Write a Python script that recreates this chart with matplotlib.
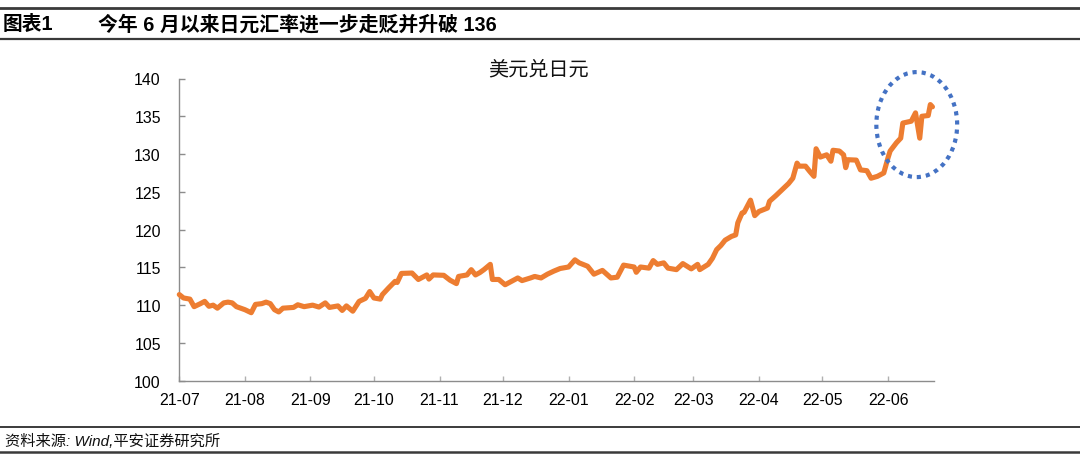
import matplotlib
matplotlib.use("Agg")
import matplotlib.pyplot as plt
import matplotlib.dates as mdates
from matplotlib.patches import Ellipse
from matplotlib.lines import Line2D
import numpy as np
import pandas as pd

plt.rcParams['font.family'] = ['Liberation Sans', 'Noto Sans CJK SC', 'DejaVu Sans']

# ---------------- data ----------------
fig_label = "图表1"
fig_title = "今年 6 月以来日元汇率进一步走贬并升破 136"
chart_title = "美元兑日元"
source_text = "资料来源: Wind,平安证券研究所"

dates = [
    "2021-07-01", "2021-07-03", "2021-07-06", "2021-07-08", "2021-07-11", "2021-07-13",
    "2021-07-15", "2021-07-17", "2021-07-19", "2021-07-22", "2021-07-24", "2021-07-26",
    "2021-07-28", "2021-07-30", "2021-08-01", "2021-08-04", "2021-08-06", "2021-08-09",
    "2021-08-11", "2021-08-13", "2021-08-15", "2021-08-17", "2021-08-19", "2021-08-24",
    "2021-08-26", "2021-08-29", "2021-09-02", "2021-09-05", "2021-09-08", "2021-09-10",
    "2021-09-14", "2021-09-16", "2021-09-18", "2021-09-21", "2021-09-24", "2021-09-27",
    "2021-09-29", "2021-10-01", "2021-10-04", "2021-10-05", "2021-10-08", "2021-10-11",
    "2021-10-12", "2021-10-14", "2021-10-19", "2021-10-22", "2021-10-26", "2021-10-27",
    "2021-10-29", "2021-11-03", "2021-11-06", "2021-11-09", "2021-11-10", "2021-11-14",
    "2021-11-16", "2021-11-18", "2021-11-20", "2021-11-22", "2021-11-25", "2021-11-26",
    "2021-11-29", "2021-12-02", "2021-12-05", "2021-12-08", "2021-12-10", "2021-12-14",
    "2021-12-16", "2021-12-19", "2021-12-22", "2021-12-25", "2021-12-28", "2022-01-01",
    "2022-01-04", "2022-01-06", "2022-01-10", "2022-01-13", "2022-01-17", "2022-01-21",
    "2022-01-24", "2022-01-27", "2022-01-30", "2022-02-01", "2022-02-02", "2022-02-04",
    "2022-02-08", "2022-02-10", "2022-02-12", "2022-02-15", "2022-02-17", "2022-02-21",
    "2022-02-24", "2022-02-28", "2022-03-03", "2022-03-04", "2022-03-08", "2022-03-10",
    "2022-03-12", "2022-03-14", "2022-03-16", "2022-03-19", "2022-03-21", "2022-03-22",
    "2022-03-24", "2022-03-25", "2022-03-28", "2022-03-30", "2022-04-01", "2022-04-05",
    "2022-04-06", "2022-04-09", "2022-04-12", "2022-04-15", "2022-04-17", "2022-04-19",
    "2022-04-20", "2022-04-23", "2022-04-25", "2022-04-27", "2022-04-28", "2022-04-30",
    "2022-05-03", "2022-05-05", "2022-05-06", "2022-05-09", "2022-05-11", "2022-05-12",
    "2022-05-13", "2022-05-17", "2022-05-19", "2022-05-22", "2022-05-24", "2022-05-27",
    "2022-05-30", "2022-06-01", "2022-06-02", "2022-06-05", "2022-06-07", "2022-06-08",
    "2022-06-12", "2022-06-14", "2022-06-16", "2022-06-17", "2022-06-20", "2022-06-21",
    "2022-06-22",
]

usdjpy = [
    111.4, 110.95, 110.8, 109.8, 110.2, 110.5,
    109.85, 110.0, 109.6, 110.3, 110.4, 110.3,
    109.8, 109.6, 109.4, 109.0, 110.1, 110.2,
    110.4, 110.2, 109.4, 109.1, 109.6, 109.7,
    110.05, 109.8, 110.0, 109.75, 110.3, 109.7,
    109.9, 109.3, 109.9, 109.2, 110.5, 110.9,
    111.8, 110.95, 110.8, 111.4, 112.3, 113.15,
    113.0, 114.2, 114.25, 113.4, 114.0, 113.45,
    114.0, 113.95, 113.3, 112.85, 113.8, 114.0,
    114.7, 114.0, 114.3, 114.7, 115.4, 113.4,
    113.4, 112.7, 113.15, 113.6, 113.25, 113.6,
    113.8, 113.6, 114.1, 114.5, 114.85, 115.05,
    116.0, 115.6, 115.15, 114.1, 114.6, 113.6,
    113.7, 115.3, 115.15, 115.05, 114.35, 115.05,
    114.9, 115.9, 115.4, 115.6, 114.9, 114.7,
    115.5, 114.8, 115.4, 114.7, 115.4, 116.2,
    117.35, 117.9, 118.6, 119.1, 119.3, 120.9,
    122.2, 122.3, 123.9, 121.85, 122.4, 122.85,
    123.75, 124.5, 125.3, 126.1, 126.8, 128.8,
    128.4, 128.4, 127.7, 127.05, 130.7, 129.6,
    129.9, 129.05, 130.5, 130.4, 129.9, 128.2,
    129.25, 129.2, 127.9, 127.8, 126.8, 127.05,
    127.5, 129.5, 130.4, 131.5, 132.1, 134.1,
    134.35, 135.45, 132.1, 135.0, 135.1, 136.55,
    136.25,
]

y_ticks = [100, 105, 110, 115, 120, 125, 130, 135, 140]

# highlight ellipse (data units): centre date, centre value, width in days, height in value
ellipse_center_date = "2022-06-14 14:00"
ellipse_center_value = 133.9
ellipse_width_days = 38.2
ellipse_height_value = 13.9

# ---------------- figure ----------------
W, H = 1080, 460
fig = plt.figure(figsize=(W / 100, H / 100), dpi=100)

def fx(px):
    return px / W

def fy(py):
    return 1 - py / H

x = pd.to_datetime(dates)
ax = fig.add_axes([fx(179.3), fy(381.7), fx(933.5 - 179.3), (381.7 - 79.5) / H])

ax.plot(x, usdjpy, color="#ED7D31", lw=3.7, solid_joinstyle="round", solid_capstyle="round",
        clip_on=False, zorder=3)

ax.set_ylim(100, 140)
ax.set_yticks(y_ticks)
ax.set_xlim(pd.Timestamp("2021-07-01"), pd.Timestamp(dates[-1]) + pd.Timedelta(hours=12))
ax.xaxis.set_major_locator(mdates.MonthLocator())
ax.xaxis.set_major_formatter(mdates.DateFormatter("%y-%m"))

for s in ["top", "right"]:
    ax.spines[s].set_visible(False)
for s in ["left", "bottom"]:
    ax.spines[s].set_color("#8C8C8C")
    ax.spines[s].set_linewidth(1.0)

ax.tick_params(axis="y", direction="in", length=4.5, width=1.0, color="#8C8C8C",
               labelsize=11.4, pad=13.3, labelcolor="black")
ax.tick_params(axis="x", direction="in", length=3.5, width=1.0, color="#B0B0B0",
               labelsize=11.4, pad=8, labelcolor="black")

ell = Ellipse((mdates.date2num(pd.Timestamp(ellipse_center_date)), ellipse_center_value),
              width=ellipse_width_days, height=ellipse_height_value,
              fill=False, edgecolor="#4472C4", lw=3.0, linestyle=(0, (1, 1.2)),
              clip_on=False, zorder=4)
ell.set_capstyle("butt")
ax.add_patch(ell)

# chart title
fig.text(fx(538), fy(70), chart_title, ha="center", va="center", fontsize=14.5, color="#111111")

# header
fig.add_artist(Line2D([0, 1], [fy(8.6), fy(8.6)], color="#3A3A3A", lw=2.0, transform=fig.transFigure))
fig.add_artist(Line2D([0, 1], [fy(39.7), fy(39.7)], color="#3A3A3A", lw=1.6, transform=fig.transFigure))
fig.text(fx(3), fy(24.5), fig_label, ha="left", va="center", fontsize=14.2, weight="bold", color="black")
fig.text(fx(98), fy(24.5), fig_title, ha="left", va="center", fontsize=14.3, weight="bold", color="black")

# footer
fig.add_artist(Line2D([0, 1], [fy(428.3), fy(428.3)], color="#1A1A1A", lw=1.2, transform=fig.transFigure))
fig.add_artist(Line2D([0, 1], [fy(453.3), fy(453.3)], color="#3A3A3A", lw=1.8, transform=fig.transFigure))
fig.text(fx(5), fy(441), source_text, ha="left", va="center", fontsize=11, style="italic", color="#111111")

fig.savefig("out.png", dpi=100)
